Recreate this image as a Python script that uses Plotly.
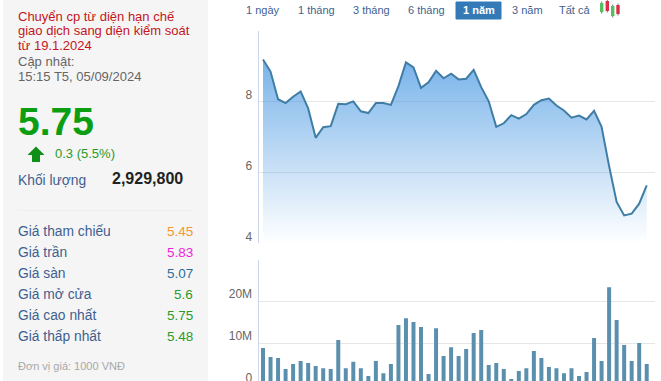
import plotly.graph_objects as go

W, H = 661, 386

weeks = list(range(1, 53))
price = [9.18, 8.84, 8.06, 7.95, 8.13, 8.28, 7.80, 6.97, 7.27, 7.30,
         7.93, 7.92, 8.00, 7.72, 7.67, 7.95, 7.95, 7.90, 8.43, 9.10,
         8.96, 8.38, 8.54, 8.86, 8.65, 8.78, 8.62, 8.64, 8.89, 8.40,
         8.00, 7.28, 7.38, 7.61, 7.51, 7.64, 7.90, 8.03, 8.08, 7.88,
         7.74, 7.54, 7.60, 7.49, 7.73, 7.28, 6.17, 5.16, 4.78, 4.83,
         5.11, 5.63]
floor = [4] * 52
volume_m = [8.9, 6.75, 6.5, 3.9, 5.1, 5.8, 5.3, 4.6, 4.1, 3.9,
            10.8, 4.1, 5.6, 4.1, 2.2, 5.8, 2.9, 5.1, 14.4, 16.0,
            15.1, 13.9, 2.7, 13.65, 7.0, 9.1, 7.0, 8.65, 12.5, 13.2,
            4.85, 5.3, 3.9, 1.5, 3.4, 4.1, 8.2, 6.5, 4.4, 4.1,
            2.9, 4.1, 2.2, 3.2, 11.3, 5.8, 23.4, 15.6, 9.6, 5.8,
            10.1, 5.1]
price_ticks = [4, 6, 8, 10]
price_labels = ["4", "6", "8", ""]
vol_ticks = [0, 10, 20, 30]
vol_labels = ["0", "10M", "20M", ""]
notice = ["Chuyển cp từ diện hạn chế", "giao dịch sang diện kiểm soát", "từ 19.1.2024"]
updated = ["Cập nhật:", "15:15 T5, 05/09/2024"]
rows = [("Giá tham chiếu", "5.45", "#f7962e"), ("Giá trần", "5.83", "#f01fd8"),
        ("Giá sàn", "5.07", "#2b6d99"), ("Giá mở cửa", "5.6", "#2a9a2a"),
        ("Giá cao nhất", "5.75", "#2a9a2a"), ("Giá thấp nhất", "5.48", "#2a9a2a")]
row_y = [231.7, 252.6, 273.7, 294.6, 315.6, 336.6]
ranges = [("1 ngày", 263), ("1 tháng", 316), ("3 tháng", 371), ("6 tháng", 426),
          ("3 năm", 527), ("Tất cả", 574.5)]

FONT = "Liberation Sans, Arial, sans-serif"
BLUE = "#3f5f8f"


def px(x):
    return x / W


def py(y):
    return 1 - y / H


ann = []


def text(x, y, s, size, color, anchor="left", bold=False):
    ann.append(dict(x=px(x), y=py(y), xref="paper", yref="paper", text=f"<b>{s}</b>" if bold else s,
                    showarrow=False, xanchor=anchor, yanchor="middle",
                    font=dict(family=FONT, size=size, color=color), borderpad=0, borderwidth=0))


for i, s in enumerate(notice):
    text(18, 16 + 15 * i, s, 13, "#c4161c")
for i, s in enumerate(updated):
    text(18, 61.5 + 15 * i, s, 13, "#666666")
text(18, 121, "5.75", 39, "#0b9e12", bold=True)
text(55, 153, "0.3 (5.5%)", 13, "#2a9a2a")
text(18, 180, "Khối lượng", 13.8, BLUE)
text(183, 178, "2,929,800", 16, "#222222", anchor="right", bold=True)
for (lab, val, col), y in zip(rows, row_y):
    text(18, y, lab, 13.8, BLUE)
    text(192.5, y, val, 13.5, col, anchor="right")
text(18, 366, "Đơn vị giá: 1000 VNĐ", 11, "#a8a8a8")
for s, x in ranges:
    text(x, 10, s, 11, BLUE, anchor="center")
text(478.5, 10.5, "1 năm", 11, "#ffffff", anchor="center", bold=True)

shapes = [
    dict(type="rect", xref="paper", yref="paper", x0=px(3), x1=px(208), y0=py(H), y1=py(-1),
         fillcolor="#f5f5f5", line_width=0, layer="below"),
    dict(type="line", xref="paper", yref="paper", x0=px(18), x1=px(192), y0=py(210.5), y1=py(210.5),
         line=dict(color="#eeeeee", width=1), layer="below"),
    dict(type="rect", xref="paper", yref="paper", x0=px(456), x1=px(501), y0=py(19), y1=py(2),
         fillcolor="#337ab7", line=dict(color="#337ab7", width=1), layer="below"),
    dict(type="path", xref="paper", yref="paper",
         path=" ".join(f"{c}{px(a)},{py(b)}" for c, a, b in
                       [("M", 36, 146.5), ("L", 44.5, 155), ("L", 40, 155), ("L", 40, 162),
                        ("L", 32, 162), ("L", 32, 155), ("L", 27.5, 155)]) + " Z",
         fillcolor="#0f8f1a", line_width=0),
]
for cx, t, b, col in [(601.7, 3, 12, "#55c060"), (607.3, 1, 11, "#d9304a"),
                      (612.7, 6, 16, "#55c060"), (618, 5, 14, "#d9304a")]:
    shapes.append(dict(type="line", xref="paper", yref="paper", x0=px(cx), x1=px(cx),
                       y0=py(t - 1.5), y1=py(b + 1.5), line=dict(color="#777777", width=1)))
    shapes.append(dict(type="rect", xref="paper", yref="paper", x0=px(cx - 1.7), x1=px(cx + 1.7),
                       y0=py(b), y1=py(t), fillcolor=col, line_width=0))

fig = go.Figure()
fig.add_trace(go.Scatter(x=weeks, y=floor, mode="lines", line=dict(width=0), hoverinfo="skip",
                         showlegend=False, xaxis="x", yaxis="y"))
fig.add_trace(go.Scatter(x=weeks, y=price, mode="lines", line=dict(color="#3f7da6", width=2),
                         fill="tonexty",
                         fillgradient=dict(type="vertical", start=10, stop=4,
                                           colorscale=[[0, "rgba(60,145,224,0.8)"], [1, "rgba(60,145,224,0)"]]),
                         showlegend=False, xaxis="x", yaxis="y"))
fig.add_trace(go.Bar(x=weeks, y=[v * 1e6 for v in volume_m], marker=dict(color="#5a90ae", line_width=0),
                     width=0.53, showlegend=False, xaxis="x2", yaxis="y2"))

xdom = [px(258.5), px(655)]
axis_x = dict(range=[0.4, 53.1], domain=xdom, showticklabels=False, showgrid=False, zeroline=False,
              ticks="", showline=False, automargin=False)
common_y = dict(showgrid=True, gridcolor="#e6e6e6", gridwidth=1, zeroline=False,
                showline=True, linecolor="#ccd6eb", linewidth=1, ticks="", automargin=False,
                ticklabelposition="outside top", ticklabelstandoff=3,
                tickfont=dict(family=FONT, size=12, color="#666666"))
fig.update_layout(
    width=W, height=H, margin=dict(l=0, r=0, t=0, b=0), autosize=False,
    paper_bgcolor="#ffffff", plot_bgcolor="#ffffff", bargap=0.47, showlegend=False,
    annotations=ann, shapes=shapes,
    xaxis=axis_x,
    xaxis2=dict(axis_x, anchor="y2"),
    yaxis={**common_y, "domain": [py(243), py(30.5)], "range": [4, 10], "tickvals": price_ticks,
           "ticktext": price_labels, "ticklabelshift": 2},
    yaxis2={**common_y, "domain": [py(385.3), py(259.7)], "range": [0, 30e6], "tickvals": [v * 1e6 for v in vol_ticks],
            "ticktext": vol_labels, "ticklabelshift": 1},
)
fig.write_html("out.html", config=dict(displayModeBar=False),
               post_script="document.body.style.margin='0';document.body.style.overflow='hidden';"
                           "document.documentElement.style.overflow='hidden';")
